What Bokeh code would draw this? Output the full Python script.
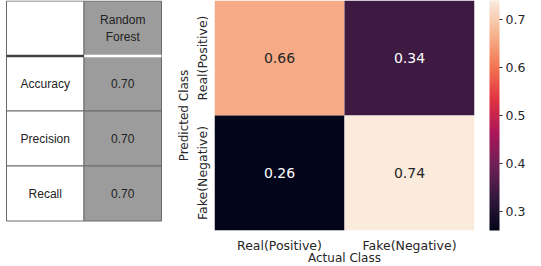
import math
from bokeh.plotting import figure
from bokeh.models import (ColumnDataSource, FactorRange, Range1d, LinearColorMapper,
                          ColorBar, FixedTicker)
from bokeh.layouts import row
from bokeh.embed import file_html
from bokeh.resources import INLINE
from bokeh.core.properties import value

# ---------------- data ----------------
table_header = ["", "Random\nForest"]
metric_names = ["Accuracy", "Precision", "Recall"]
metric_values = [0.70, 0.70, 0.70]

classes = ["Real(Positive)", "Fake(Negative)"]
# rows: predicted class, columns: actual class
cm_values = [[0.66, 0.34],
             [0.26, 0.74]]
cbar_ticks = [0.3, 0.4, 0.5, 0.6, 0.7]

# ---------------- rocket colormap ----------------
anchors = ["#03051a", "#35193e", "#701f57", "#ad1759", "#e13342", "#f37651", "#f6b48f", "#faebdd"]
def hex2rgb(h):
    h = h.lstrip("#")
    return [int(h[i:i + 2], 16) for i in (0, 2, 4)]
rgbs = [hex2rgb(a) for a in anchors]
palette = []
N = 256
for i in range(N):
    t = i / (N - 1) * (len(rgbs) - 1)
    k = min(int(t), len(rgbs) - 2)
    f = t - k
    c = [round(rgbs[k][j] + (rgbs[k + 1][j] - rgbs[k][j]) * f) for j in range(3)]
    palette.append("#%02x%02x%02x" % tuple(c))

TXT = "#262626"

# ---------------- table ----------------
col_w = 77.5
row_h = 55.0
TW, TH = 172, 240
x0 = -6.0 / col_w
y0 = -0.5 / row_h
tp = figure(frame_width=TW, frame_height=TH, output_backend="svg", toolbar_location=None,
            x_range=Range1d(x0, x0 + TW / col_w),
            y_range=Range1d(y0 + TH / row_h, y0),
            x_axis_location=None, y_axis_location=None, title=None,
            min_border=0, outline_line_color=None)
tp.grid.visible = False

n_rows = 1 + len(metric_names)
left, right, top, bottom, fills = [], [], [], [], []
for r in range(n_rows):
    for c in range(2):
        left.append(c); right.append(c + 1)
        top.append(r); bottom.append(r + 1)
        fills.append("#ffffff" if c == 0 else "#9c9c9c")
tp.quad(left=left, right=right, top=top, bottom=bottom, fill_color=fills,
        line_color="#6a6a6a", line_width=1)
# header separator
tp.segment(x0=[0], y0=[1], x1=[1], y1=[1], line_color="#404040", line_width=2.5)
tp.segment(x0=[1], y0=[1], x1=[2], y1=[1], line_color="#ffffff", line_width=2.5)

tx, ty, tt = [], [], []
tx.append(1.5); ty.append(0.5); tt.append(table_header[1])
for i, (name, v) in enumerate(zip(metric_names, metric_values)):
    tx += [0.5, 1.5]; ty += [i + 1.5, i + 1.5]; tt += [name, "%.2f" % v]
tp.text(x=tx, y=ty, text=tt, text_align="center", text_baseline="middle",
        text_font=value("Liberation Sans"), text_font_size="12px",
        text_color="#222222", text_line_height=1.15)

# ---------------- heatmap ----------------
mapper = LinearColorMapper(palette=palette, low=0.26, high=0.74)
xs, ys, vals, labels, tcols = [], [], [], [], []
for i, pred in enumerate(classes):
    for j, act in enumerate(classes):
        v = cm_values[i][j]
        xs.append(act); ys.append(pred); vals.append(v)
        labels.append("%.2f" % v)
        tcols.append(TXT if (v - 0.26) / 0.48 > 0.6 else "#ffffff")
src = ColumnDataSource(dict(x=xs, y=ys, v=vals, label=labels, tc=tcols))

FH = 230
hp = figure(frame_width=260, frame_height=FH, output_backend="svg", toolbar_location=None,
            x_range=FactorRange(*classes), y_range=FactorRange(*classes[::-1]),
            title=None,
            min_border_left=42, min_border_right=0, min_border_top=0, min_border_bottom=0,
            outline_line_color=None)
hp.rect(x="x", y="y", width=1, height=1, source=src,
        fill_color={"field": "v", "transform": mapper}, line_color=None)
hp.text(x="x", y="y", text="label", source=src, text_color="tc",
        text_align="center", text_baseline="middle",
        text_font=value("DejaVu Sans"), text_font_size="14px")
hp.grid.visible = False
for ax in hp.axis:
    ax.axis_line_color = None
    ax.major_tick_line_color = None
    ax.minor_tick_line_color = None
    ax.major_tick_out = 0
    ax.major_tick_in = 0
    ax.major_label_text_font = "DejaVu Sans"
    ax.major_label_text_font_size = "12.5px"
    ax.major_label_text_color = TXT
    ax.axis_label_text_font = "DejaVu Sans"
    ax.axis_label_text_font_size = "12px"
    ax.axis_label_text_font_style = "normal"
    ax.axis_label_text_color = TXT
hp.xaxis.major_label_standoff = 7
hp.xaxis.axis_label_standoff = -5
hp.yaxis.major_label_standoff = 5
hp.yaxis.axis_label_standoff = 1
hp.xaxis.axis_label = "Actual Class"
hp.yaxis.axis_label = "Predicted Class"
hp.yaxis.major_label_orientation = "vertical"

cb = ColorBar(color_mapper=mapper, ticker=FixedTicker(ticks=cbar_ticks),
              width=10, height=FH, major_tick_in=0, major_tick_out=3,
              major_tick_line_color=TXT, bar_line_color=None,
              border_line_color=None, background_fill_color=None,
              label_standoff=3, padding=0, margin=0, location=(15, 0),
              major_label_text_font="DejaVu Sans", major_label_text_font_size="12.5px",
              major_label_text_color=TXT)
hp.add_layout(cb, "right")

layout = row(tp, hp)
open("out.html", "w").write(file_html(layout, INLINE))
